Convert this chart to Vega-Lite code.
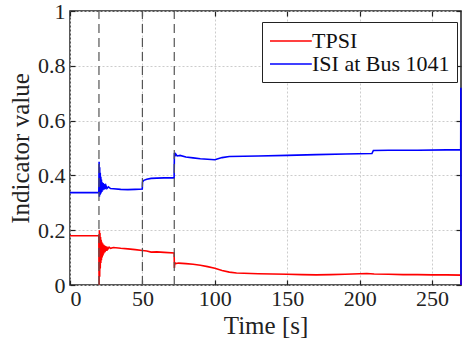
{
  "$schema": "https://vega.github.io/schema/vega-lite/v6.json",
  "width": 391,
  "height": 274,
  "autosize": "none",
  "padding": {"left": 70, "top": 11, "right": 1, "bottom": 68},
  "background": "white",
  "config": {
    "view": {"stroke": "#222", "strokeWidth": 1.5},
    "font": "Times New Roman",
    "axis": {"domain": false, "labelFont": "Times New Roman", "titleFont": "Times New Roman", "labelColor": "#222", "titleColor": "#222", "titleFontWeight": "normal", "labelFontSize": 22, "titleFontSize": 25, "tickColor": "#222", "tickWidth": 1.2, "tickSize": -5}
  },
  "datasets": {
    "series": [
      {"t": 0, "v": 0.18, "s": "TPSI"}, {"t": 19.9, "v": 0.18, "s": "TPSI"}, {"t": 20.1, "v": 0.0, "s": "TPSI"}, {"t": 20.3, "v": 0.2, "s": "TPSI"}, {"t": 20.5, "v": 0.03, "s": "TPSI"}, {"t": 20.7, "v": 0.19, "s": "TPSI"}, {"t": 20.9, "v": 0.06, "s": "TPSI"}, {"t": 21.1, "v": 0.175, "s": "TPSI"}, {"t": 21.3, "v": 0.08, "s": "TPSI"}, {"t": 21.5, "v": 0.165, "s": "TPSI"}, {"t": 21.7, "v": 0.09, "s": "TPSI"}, {"t": 21.9, "v": 0.158, "s": "TPSI"}, {"t": 22.2, "v": 0.1, "s": "TPSI"}, {"t": 22.5, "v": 0.152, "s": "TPSI"}, {"t": 22.8, "v": 0.108, "s": "TPSI"}, {"t": 23.1, "v": 0.148, "s": "TPSI"}, {"t": 23.4, "v": 0.115, "s": "TPSI"}, {"t": 23.8, "v": 0.145, "s": "TPSI"}, {"t": 24.2, "v": 0.12, "s": "TPSI"}, {"t": 24.6, "v": 0.142, "s": "TPSI"}, {"t": 25, "v": 0.125, "s": "TPSI"}, {"t": 25.5, "v": 0.14, "s": "TPSI"}, {"t": 26, "v": 0.13, "s": "TPSI"}, {"t": 27, "v": 0.138, "s": "TPSI"}, {"t": 28, "v": 0.134, "s": "TPSI"}, {"t": 30, "v": 0.137, "s": "TPSI"}, {"t": 35, "v": 0.134, "s": "TPSI"}, {"t": 40, "v": 0.132, "s": "TPSI"}, {"t": 45, "v": 0.129, "s": "TPSI"}, {"t": 50, "v": 0.126, "s": "TPSI"}, {"t": 53, "v": 0.124, "s": "TPSI"}, {"t": 56, "v": 0.12, "s": "TPSI"}, {"t": 60, "v": 0.121, "s": "TPSI"}, {"t": 65, "v": 0.119, "s": "TPSI"}, {"t": 71.9, "v": 0.117, "s": "TPSI"}, {"t": 72.1, "v": 0.062, "s": "TPSI"}, {"t": 72.4, "v": 0.082, "s": "TPSI"}, {"t": 73, "v": 0.078, "s": "TPSI"}, {"t": 75, "v": 0.08, "s": "TPSI"}, {"t": 80, "v": 0.078, "s": "TPSI"}, {"t": 85, "v": 0.076, "s": "TPSI"}, {"t": 90, "v": 0.072, "s": "TPSI"}, {"t": 95, "v": 0.067, "s": "TPSI"}, {"t": 100, "v": 0.061, "s": "TPSI"}, {"t": 105, "v": 0.053, "s": "TPSI"}, {"t": 110, "v": 0.047, "s": "TPSI"}, {"t": 115, "v": 0.044, "s": "TPSI"}, {"t": 120, "v": 0.043, "s": "TPSI"}, {"t": 130, "v": 0.041, "s": "TPSI"}, {"t": 140, "v": 0.04, "s": "TPSI"}, {"t": 150, "v": 0.039, "s": "TPSI"}, {"t": 160, "v": 0.038, "s": "TPSI"}, {"t": 170, "v": 0.037, "s": "TPSI"}, {"t": 180, "v": 0.038, "s": "TPSI"}, {"t": 190, "v": 0.039, "s": "TPSI"}, {"t": 200, "v": 0.041, "s": "TPSI"}, {"t": 205, "v": 0.042, "s": "TPSI"}, {"t": 210, "v": 0.04, "s": "TPSI"}, {"t": 220, "v": 0.039, "s": "TPSI"}, {"t": 230, "v": 0.038, "s": "TPSI"}, {"t": 240, "v": 0.038, "s": "TPSI"}, {"t": 250, "v": 0.037, "s": "TPSI"}, {"t": 260, "v": 0.037, "s": "TPSI"}, {"t": 269.9, "v": 0.036, "s": "TPSI"}, {"t": 270, "v": 0.0, "s": "TPSI"},
      {"t": 0, "v": 0.337, "s": "ISI at Bus 1041"}, {"t": 19.9, "v": 0.337, "s": "ISI at Bus 1041"}, {"t": 20.1, "v": 0.45, "s": "ISI at Bus 1041"}, {"t": 20.3, "v": 0.322, "s": "ISI at Bus 1041"}, {"t": 20.5, "v": 0.43, "s": "ISI at Bus 1041"}, {"t": 20.7, "v": 0.328, "s": "ISI at Bus 1041"}, {"t": 20.9, "v": 0.41, "s": "ISI at Bus 1041"}, {"t": 21.1, "v": 0.332, "s": "ISI at Bus 1041"}, {"t": 21.3, "v": 0.395, "s": "ISI at Bus 1041"}, {"t": 21.5, "v": 0.337, "s": "ISI at Bus 1041"}, {"t": 21.7, "v": 0.385, "s": "ISI at Bus 1041"}, {"t": 22, "v": 0.34, "s": "ISI at Bus 1041"}, {"t": 22.3, "v": 0.375, "s": "ISI at Bus 1041"}, {"t": 22.6, "v": 0.345, "s": "ISI at Bus 1041"}, {"t": 23, "v": 0.372, "s": "ISI at Bus 1041"}, {"t": 23.4, "v": 0.348, "s": "ISI at Bus 1041"}, {"t": 23.8, "v": 0.368, "s": "ISI at Bus 1041"}, {"t": 24.2, "v": 0.35, "s": "ISI at Bus 1041"}, {"t": 24.8, "v": 0.363, "s": "ISI at Bus 1041"}, {"t": 25.5, "v": 0.352, "s": "ISI at Bus 1041"}, {"t": 26.5, "v": 0.358, "s": "ISI at Bus 1041"}, {"t": 28, "v": 0.352, "s": "ISI at Bus 1041"}, {"t": 30, "v": 0.351, "s": "ISI at Bus 1041"}, {"t": 35, "v": 0.349, "s": "ISI at Bus 1041"}, {"t": 40, "v": 0.348, "s": "ISI at Bus 1041"}, {"t": 45, "v": 0.349, "s": "ISI at Bus 1041"}, {"t": 49.9, "v": 0.35, "s": "ISI at Bus 1041"}, {"t": 50.1, "v": 0.376, "s": "ISI at Bus 1041"}, {"t": 51, "v": 0.382, "s": "ISI at Bus 1041"}, {"t": 53, "v": 0.386, "s": "ISI at Bus 1041"}, {"t": 56, "v": 0.389, "s": "ISI at Bus 1041"}, {"t": 60, "v": 0.39, "s": "ISI at Bus 1041"}, {"t": 65, "v": 0.391, "s": "ISI at Bus 1041"}, {"t": 71.9, "v": 0.391, "s": "ISI at Bus 1041"}, {"t": 72.1, "v": 0.482, "s": "ISI at Bus 1041"}, {"t": 72.5, "v": 0.47, "s": "ISI at Bus 1041"}, {"t": 73, "v": 0.478, "s": "ISI at Bus 1041"}, {"t": 74, "v": 0.471, "s": "ISI at Bus 1041"}, {"t": 76, "v": 0.473, "s": "ISI at Bus 1041"}, {"t": 80, "v": 0.467, "s": "ISI at Bus 1041"}, {"t": 85, "v": 0.464, "s": "ISI at Bus 1041"}, {"t": 90, "v": 0.461, "s": "ISI at Bus 1041"}, {"t": 95, "v": 0.459, "s": "ISI at Bus 1041"}, {"t": 100, "v": 0.457, "s": "ISI at Bus 1041"}, {"t": 105, "v": 0.465, "s": "ISI at Bus 1041"}, {"t": 110, "v": 0.469, "s": "ISI at Bus 1041"}, {"t": 120, "v": 0.47, "s": "ISI at Bus 1041"}, {"t": 130, "v": 0.471, "s": "ISI at Bus 1041"}, {"t": 150, "v": 0.473, "s": "ISI at Bus 1041"}, {"t": 170, "v": 0.476, "s": "ISI at Bus 1041"}, {"t": 190, "v": 0.478, "s": "ISI at Bus 1041"}, {"t": 208.5, "v": 0.48, "s": "ISI at Bus 1041"}, {"t": 209.5, "v": 0.491, "s": "ISI at Bus 1041"}, {"t": 220, "v": 0.492, "s": "ISI at Bus 1041"}, {"t": 240, "v": 0.492, "s": "ISI at Bus 1041"}, {"t": 260, "v": 0.493, "s": "ISI at Bus 1041"}, {"t": 269.8, "v": 0.493, "s": "ISI at Bus 1041"}, {"t": 269.9, "v": 0.72, "s": "ISI at Bus 1041"}, {"t": 270, "v": 0.0, "s": "ISI at Bus 1041"}
    ],
    "events": [
      {"t": 20, "lo": 0, "hi": 1},
      {"t": 50, "lo": 0, "hi": 1},
      {"t": 72, "lo": 0, "hi": 1}
    ]
  },
  "layer": [
    {
      "data": {"name": "series"},
      "mark": {"type": "line", "strokeWidth": 1.6, "interpolate": "linear"},
      "encoding": {
        "x": {"field": "t", "type": "quantitative", "scale": {"domain": [0, 270], "nice": false, "zero": false},
              "axis": {"title": "Time [s]", "values": [0, 50, 100, 150, 200, 250], "format": "d", "labelPadding": 8, "titlePadding": 4, "grid": true, "gridColor": "#cccccc", "gridDash": [2, 2], "gridWidth": 1, "gridOpacity": 1}},
        "y": {"field": "v", "type": "quantitative", "scale": {"domain": [0, 1], "nice": false},
              "axis": {"title": "Indicator value", "values": [0, 0.2, 0.4, 0.6, 0.8, 1], "format": "~g", "labelPadding": 10, "titlePadding": 4, "grid": true, "gridColor": "#cccccc", "gridDash": [2, 2], "gridWidth": 1, "gridOpacity": 1}},
        "color": {"field": "s", "type": "nominal",
                  "scale": {"domain": ["TPSI", "ISI at Bus 1041"], "range": ["#ff0000", "#0000ff"]},
                  "legend": {"title": null, "orient": "none", "legendX": 192, "legendY": 11, "direction": "vertical",
                             "strokeColor": "#222", "fillColor": "white", "padding": 7, "symbolType": "M-1,0H2.8",
                             "symbolStrokeWidth": 1.5, "symbolSize": 484, "symbolFillColor": "transparent", "labelFont": "Times New Roman", "labelFontSize": 22,
                             "labelColor": "#111", "rowPadding": 0, "labelOffset": 19, "cornerRadius": 0}}
      }
    },
    {
      "data": {"name": "events"},
      "mark": {"type": "rule", "color": "#555", "strokeWidth": 1.2, "strokeDash": [9, 5]},
      "encoding": {
        "x": {"field": "t", "type": "quantitative", "scale": {"domain": [0, 270], "nice": false},
              "axis": {"orient": "top", "title": null, "labels": false, "grid": false, "values": [0, 50, 100, 150, 200, 250]}},
        "y": {"field": "lo", "type": "quantitative", "scale": {"domain": [0, 1], "nice": false},
              "axis": {"orient": "right", "title": null, "labels": false, "grid": false, "values": [0, 0.2, 0.4, 0.6, 0.8, 1]}},
        "y2": {"field": "hi"}
      }
    }
  ],
  "resolve": {"axis": {"x": "independent", "y": "independent"}}
}
